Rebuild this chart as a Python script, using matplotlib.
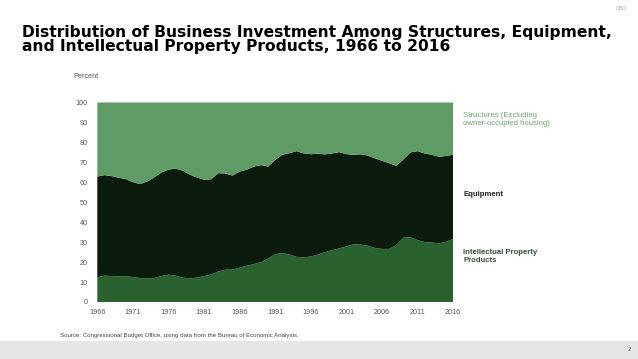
"""
Distribution of business investment among structures, equipment and IPP, 1966-2016.
CBO slide recreation (shares read off the original chart).
"""

import matplotlib
matplotlib.use("Agg")
import matplotlib.pyplot as plt
from matplotlib.patches import Rectangle

years = list(range(1966, 2017))
# percent of business investment, each year
ipp = [12.4, 13.2, 13.0, 12.9, 12.9, 12.5, 12.0, 11.7, 12.0, 13.0,
       13.7, 13.2, 12.2, 11.9, 12.2, 13.0, 13.8, 15.3, 16.2, 16.2,
       17.2, 18.2, 19.0, 20.0, 21.8, 24.0, 24.5, 23.8, 22.6, 22.4,
       22.8, 23.8, 25.0, 26.0, 26.9, 27.9, 28.9, 28.8, 28.2, 27.0,
       26.6, 26.6, 28.6, 32.2, 32.4, 31.0, 30.0, 29.8, 29.4, 30.2,
       31.6]
equipment = [50.5, 50.4, 50.1, 49.4, 48.7, 47.6, 47.1, 48.7, 50.4, 51.9,
             52.6, 53.7, 53.6, 51.9, 50.2, 48.3, 47.7, 49.3, 48.2, 47.2,
             48.2, 48.1, 48.9, 48.6, 46.1, 47.3, 49.3, 50.8, 53.0, 52.1,
             51.3, 50.5, 49.0, 48.5, 48.2, 46.2, 44.9, 45.2, 45.2, 45.0,
             44.2, 42.9, 39.7, 39.3, 42.6, 44.6, 44.4, 44.0, 43.4, 43.0,
             42.2]
structures = [37.1, 36.4, 36.9, 37.7, 38.4, 39.9, 40.9, 39.6, 37.6, 35.1,
              33.7, 33.1, 34.2, 36.2, 37.6, 38.7, 38.5, 35.4, 35.6, 36.6,
              34.6, 33.7, 32.1, 31.4, 32.1, 28.7, 26.2, 25.4, 24.4, 25.5,
              25.9, 25.7, 26.0, 25.5, 24.9, 25.9, 26.2, 26.0, 26.6, 28.0,
              29.2, 30.5, 31.7, 28.5, 25.0, 24.4, 25.6, 26.2, 27.2, 26.8,
              26.2]

x_ticks = list(range(1966, 2017, 5))
y_ticks = list(range(0, 101, 10))

C_STRUCT = "#5f9c65"
C_EQUIP = "#0b1c0d"
C_IPP = "#29622f"
SANS = "Liberation Sans"

fig = plt.figure(figsize=(6.38, 3.59), dpi=100)
ax = fig.add_axes([0.1525, 0.1588, 0.558, 0.5557])

ax.stackplot(years, ipp, equipment, structures,
             colors=[C_IPP, C_EQUIP, C_STRUCT], linewidth=0)
ax.set_xlim(1966, 2016)
ax.set_ylim(0, 100)
ax.set_xticks(x_ticks)
ax.set_yticks(y_ticks)
ax.tick_params(axis="x", length=0, labelsize=5.2, colors="#555555", pad=5)
ax.tick_params(axis="y", length=0, labelsize=5.2, colors="#555555", pad=7)
for lab in ax.get_xticklabels() + ax.get_yticklabels():
    lab.set_family(SANS)
for s in ax.spines.values():
    s.set_visible(False)

# title, two lines placed separately to keep the tight leading
title_lines = ["Distribution of Business Investment Among Structures, Equipment,",
               "and Intellectual Property Products, 1966 to 2016"]
for line, base in zip(title_lines, [37, 51]):
    fig.text(22 / 638, 1 - base / 359, line, ha="left", va="baseline",
             fontsize=11.15, fontweight="bold", family="DejaVu Sans", color="black")

fig.text(73 / 638, 1 - 78 / 359, "Percent", fontsize=5.3, color="#555555",
         family=SANS, va="baseline")

# series labels to the right of the plot
fig.text(463 / 638, 1 - 125 / 359, "Structures (Excluding\nowner-occupied housing)",
         fontsize=5.6, color="#72a474", family=SANS, va="baseline", linespacing=1.2)
fig.text(463 / 638, 1 - 196 / 359, "Equipment", fontsize=5.6, color="#222222",
         family=SANS, va="baseline", fontweight="bold")
fig.text(463 / 638, 1 - 262 / 359, "Intellectual Property\nProducts", fontsize=5.6,
         color="#35503a", family=SANS, va="baseline", linespacing=1.2,
         fontweight="bold")

fig.text(60 / 638, 1 - 337 / 359,
         "Source: Congressional Budget Office, using data from the Bureau of Economic Analysis.",
         fontsize=4.4, color="#444444", family=SANS, va="baseline")

# slide furniture
fig.patches.append(Rectangle((0, 0), 1, 18 / 359, transform=fig.transFigure,
                             facecolor="#e6e6e6", edgecolor="none", zorder=0))
fig.text(629 / 638, 1 - 351 / 359, "2", fontsize=4, color="#555555", ha="center")
fig.text(621 / 638, 1 - 10 / 359, "CBO", fontsize=4, color="#aaaaaa", ha="center")

fig.savefig("out.png", dpi=100)
